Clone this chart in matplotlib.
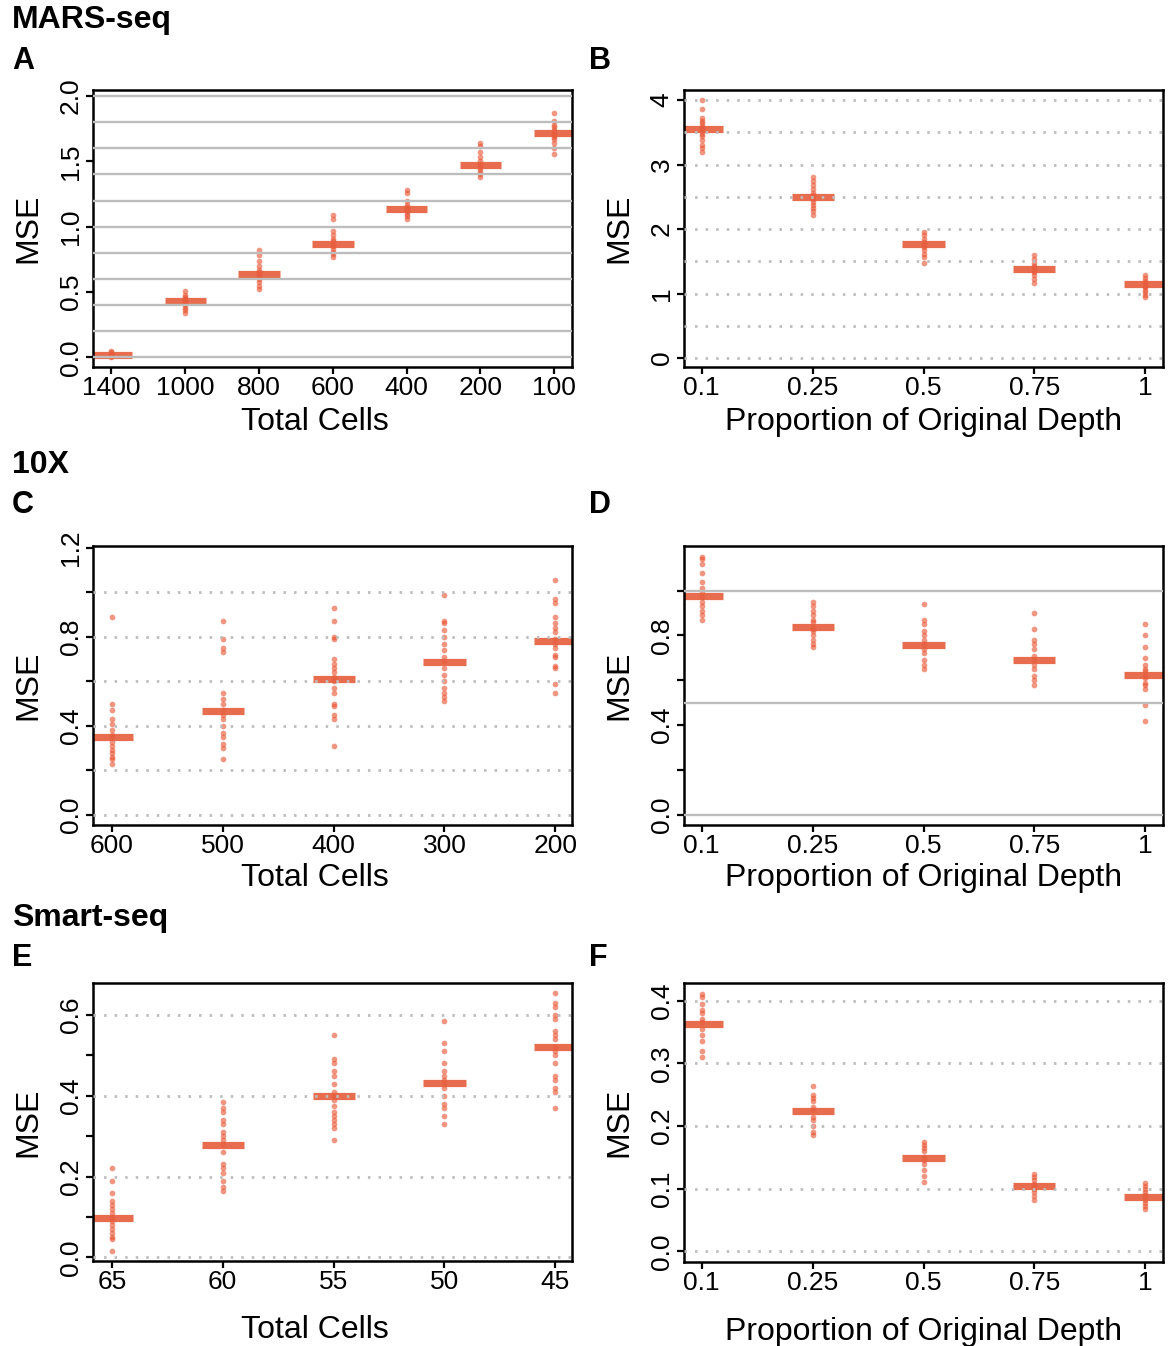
import matplotlib

matplotlib.use("Agg")

import matplotlib.pyplot as plt
import numpy as np

plt.rcParams["font.family"] = ["Liberation Sans", "DejaVu Sans"]

W, H = 1173, 1346

# MARS-seq, panel A: MSE by total cells
a_cats = ["1400", "1000", "800", "600", "400", "200", "100"]
a_means = [0.02, 0.43, 0.64, 0.87, 1.135, 1.47, 1.715]
a_points = [
    [0.0, 0.01, 0.01, 0.02, 0.02, 0.03, 0.04, 0.05],
    [0.51, 0.48, 0.46, 0.45, 0.44, 0.43, 0.42, 0.41, 0.40, 0.38, 0.36, 0.34],
    [0.82, 0.78, 0.74, 0.70, 0.67, 0.65, 0.64, 0.63, 0.62, 0.60, 0.58, 0.55, 0.52],
    [1.09, 1.06, 0.97, 0.94, 0.91, 0.89, 0.87, 0.86, 0.85, 0.83, 0.81, 0.79, 0.77],
    [1.28, 1.26, 1.20, 1.17, 1.15, 1.14, 1.13, 1.12, 1.10, 1.08, 1.06],
    [1.64, 1.62, 1.57, 1.53, 1.50, 1.48, 1.47, 1.46, 1.44, 1.42, 1.40, 1.38],
    [1.87, 1.81, 1.78, 1.76, 1.74, 1.72, 1.71, 1.70, 1.69, 1.67, 1.64, 1.60, 1.56],
]

# depth proportions shared by B, D, F
depth_cats = ["0.1", "0.25", "0.5", "0.75", "1"]

b_means = [3.55, 2.49, 1.76, 1.385, 1.14]
b_points = [
    [4.0, 3.86, 3.72, 3.68, 3.64, 3.60, 3.57, 3.55, 3.52, 3.48, 3.44, 3.38, 3.30, 3.25, 3.20],
    [2.81, 2.75, 2.68, 2.62, 2.56, 2.52, 2.49, 2.46, 2.42, 2.38, 2.33, 2.28, 2.22],
    [1.96, 1.90, 1.85, 1.80, 1.77, 1.75, 1.72, 1.68, 1.62, 1.56, 1.48],
    [1.60, 1.53, 1.47, 1.42, 1.39, 1.37, 1.33, 1.28, 1.22, 1.16],
    [1.28, 1.24, 1.20, 1.17, 1.14, 1.12, 1.10, 1.06, 1.02, 0.97, 0.94],
]

# 10X
c_cats = ["600", "500", "400", "300", "200"]
c_means = [0.352, 0.467, 0.609, 0.686, 0.783]
c_points = [
    [0.89, 0.50, 0.47, 0.43, 0.41, 0.38, 0.36, 0.35, 0.33, 0.31, 0.29, 0.28, 0.26, 0.25, 0.23],
    [0.87, 0.79, 0.75, 0.73, 0.55, 0.52, 0.50, 0.47, 0.45, 0.43, 0.40, 0.37, 0.35, 0.32, 0.30, 0.25],
    [0.93, 0.87, 0.80, 0.79, 0.70, 0.68, 0.66, 0.64, 0.62, 0.60, 0.57, 0.55, 0.50, 0.49, 0.45, 0.43, 0.31],
    [0.99, 0.87, 0.86, 0.83, 0.80, 0.77, 0.74, 0.71, 0.69, 0.66, 0.63, 0.60, 0.57, 0.55, 0.53, 0.51],
    [1.055, 0.97, 0.95, 0.89, 0.86, 0.84, 0.82, 0.79, 0.77, 0.75, 0.72, 0.71, 0.67, 0.66, 0.59, 0.55],
]

d_means = [0.978, 0.839, 0.756, 0.689, 0.625]
d_points = [
    [1.15, 1.14, 1.12, 1.08, 1.04, 1.01, 0.99, 0.97, 0.95, 0.93, 0.91, 0.89, 0.87],
    [0.95, 0.93, 0.91, 0.89, 0.87, 0.86, 0.84, 0.83, 0.82, 0.80, 0.78, 0.76, 0.75],
    [0.94, 0.87, 0.85, 0.82, 0.80, 0.78, 0.76, 0.74, 0.72, 0.69, 0.67, 0.65],
    [0.90, 0.83, 0.78, 0.76, 0.74, 0.71, 0.69, 0.67, 0.65, 0.62, 0.60, 0.58],
    [0.85, 0.80, 0.75, 0.70, 0.67, 0.65, 0.64, 0.62, 0.61, 0.59, 0.58, 0.56, 0.49, 0.42],
]

# Smart-seq
e_cats = ["65", "60", "55", "50", "45"]
e_means = [0.098, 0.279, 0.399, 0.431, 0.521]
e_points = [
    [0.22, 0.19, 0.16, 0.14, 0.13, 0.12, 0.11, 0.10, 0.09, 0.08, 0.07, 0.06, 0.05, 0.045, 0.015],
    [0.385, 0.37, 0.36, 0.34, 0.33, 0.31, 0.30, 0.29, 0.28, 0.26, 0.23, 0.22, 0.21, 0.19, 0.175, 0.165],
    [0.55, 0.49, 0.48, 0.46, 0.45, 0.43, 0.41, 0.40, 0.39, 0.375, 0.36, 0.35, 0.34, 0.33, 0.32, 0.29],
    [0.585, 0.53, 0.51, 0.48, 0.46, 0.45, 0.44, 0.43, 0.42, 0.40, 0.38, 0.37, 0.35, 0.33],
    [0.655, 0.63, 0.62, 0.60, 0.59, 0.56, 0.55, 0.54, 0.52, 0.51, 0.50, 0.48, 0.45, 0.44, 0.42, 0.41, 0.37],
]

f_means = [0.363, 0.2245, 0.149, 0.104, 0.087]
f_points = [
    [0.41, 0.405, 0.395, 0.385, 0.38, 0.37, 0.365, 0.355, 0.345, 0.335, 0.32, 0.31],
    [0.263, 0.25, 0.245, 0.24, 0.23, 0.225, 0.215, 0.21, 0.20, 0.19, 0.186],
    [0.175, 0.17, 0.165, 0.16, 0.15, 0.145, 0.14, 0.13, 0.12, 0.11],
    [0.123, 0.118, 0.113, 0.108, 0.104, 0.10, 0.095, 0.088, 0.082],
    [0.109, 0.104, 0.099, 0.095, 0.09, 0.087, 0.082, 0.077, 0.072, 0.067],
]

DOT = "#E8502E"
BAR = "#E65F3F"
GRID = "#BDBDBD"


def px_axes(fig, x0, x1, y0, y1):
    # pixel box (top-left origin) -> figure fraction
    return fig.add_axes([x0 / W, 1 - y1 / H, (x1 - x0) / W, (y1 - y0) / H])


def draw_panel(ax, cats, points, means, xlim, ylim, yticks, ylabels, grid, solid_grid,
               half_w, xlabel, xlabel_x, xlabel_y):
    xs = np.arange(1, len(cats) + 1)
    for x, pts in zip(xs, points):
        ax.scatter(np.full(len(pts), x), pts, s=17, color=DOT, alpha=0.6,
                   linewidths=0, zorder=2)
    ax.hlines(means, xs - half_w, xs + half_w, colors=BAR, lw=5.2, alpha=0.92, zorder=2.5)
    for g in grid:
        if solid_grid:
            ax.axhline(g, color=GRID, lw=1.7, zorder=3)
        else:
            ax.axhline(g, color=GRID, lw=2.0, ls=(0, (0.9, 2.9)), zorder=3)
    ax.set_xlim(*xlim)
    ax.set_ylim(*ylim)
    ax.set_xticks(xs)
    ax.set_xticklabels(cats)
    ax.set_yticks(yticks)
    ax.set_yticklabels(ylabels, rotation=90, va="center")
    ax.tick_params(axis="both", length=5, width=1.6, labelsize=19, color="black")
    ax.tick_params(axis="x", pad=1.5)
    ax.tick_params(axis="y", pad=2.5)
    for s in ax.spines.values():
        s.set_linewidth(1.8)
    ax.set_xlabel(xlabel, fontsize=23)
    ax.xaxis.set_label_coords(xlabel_x, xlabel_y)
    ax.xaxis.label.set_va("center")
    ax.set_ylabel("MSE", fontsize=23)
    ax.yaxis.set_label_coords(-0.135, 0.5)
    ax.yaxis.label.set_va("center")


fig = plt.figure(figsize=(W / 100, H / 100), dpi=100)

LX = (93, 572)
RX = (684, 1163)
depth_label = "Proportion of Original Depth"

ax_a = px_axes(fig, *LX, 90, 367)
draw_panel(ax_a, a_cats, a_points, a_means, (0.75, 7.24), (-0.073, 2.046),
           [0, 0.5, 1.0, 1.5, 2.0], ["0.0", "0.5", "1.0", "1.5", "2.0"],
           np.arange(0, 2.01, 0.2), True, 0.28, "Total Cells", 0.463, -0.2)

ax_b = px_axes(fig, *RX, 90, 367)
draw_panel(ax_b, depth_cats, b_points, b_means, (0.84, 5.16), (-0.139, 4.155),
           [0, 1, 2, 3, 4], ["0", "1", "2", "3", "4"],
           np.arange(0, 4.01, 0.5), False, 0.19, depth_label, 0.5, -0.2)

ax_c = px_axes(fig, *LX, 546, 825)
draw_panel(ax_c, c_cats, c_points, c_means, (0.83, 5.15), (-0.045, 1.208),
           np.arange(0, 1.21, 0.2), ["0.0", "", "0.4", "", "0.8", "", "1.2"],
           np.arange(0, 1.01, 0.2), False, 0.19, "Total Cells", 0.463, -0.19)

ax_d = px_axes(fig, *RX, 546, 825)
draw_panel(ax_d, depth_cats, d_points, d_means, (0.84, 5.16), (-0.045, 1.199),
           np.arange(0, 1.01, 0.2), ["0.0", "", "0.4", "", "0.8", ""],
           [0, 0.5, 1.0], True, 0.19, depth_label, 0.5, -0.19)

ax_e = px_axes(fig, *LX, 983, 1261)
draw_panel(ax_e, e_cats, e_points, e_means, (0.83, 5.15), (-0.009, 0.679),
           np.arange(0, 0.61, 0.1), ["0.0", "", "0.2", "", "0.4", "", "0.6"],
           np.arange(0, 0.61, 0.2), False, 0.19, "Total Cells", 0.463, -0.25)

ax_f = px_axes(fig, *RX, 983, 1262)
draw_panel(ax_f, depth_cats, f_points, f_means, (0.84, 5.16), (-0.017, 0.428),
           np.arange(0, 0.41, 0.1), ["0.0", "0.1", "0.2", "0.3", "0.4"],
           np.arange(0, 0.41, 0.1), False, 0.19, depth_label, 0.5, -0.25)

# section headers and panel letters
for label, x, y in [("MARS-seq", 12, 20), ("10X", 12, 465), ("Smart-seq", 12, 918)]:
    fig.text(x / W, 1 - y / H, label, fontsize=23, fontweight="bold", va="center", ha="left")
for label, x, y in [("A", 12, 61), ("B", 589, 61), ("C", 12, 505), ("D", 589, 505),
                    ("E", 12, 958), ("F", 589, 958)]:
    fig.text(x / W, 1 - y / H, label, fontsize=22, fontweight="bold", va="center", ha="left")

fig.savefig("out.png", dpi=100)
